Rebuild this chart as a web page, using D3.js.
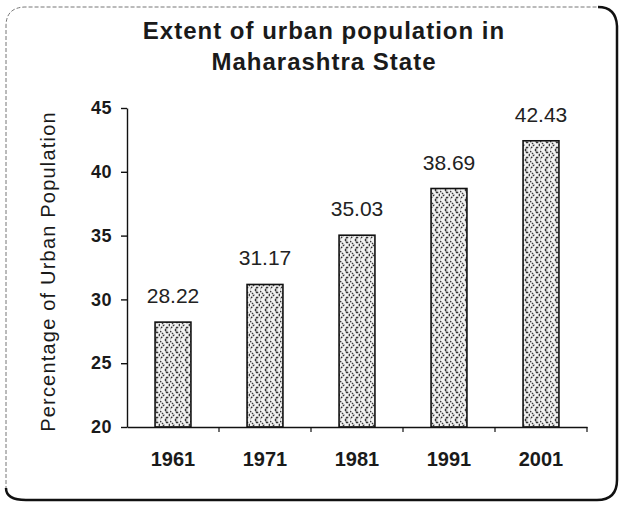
<!DOCTYPE html>
<html>
<head>
<meta charset="utf-8">
<script src="https://cdn.jsdelivr.net/npm/d3@7"></script>
<style>
  html, body { margin: 0; padding: 0; background: #ffffff; }
  svg { display: block; }
  text { font-family: "Liberation Sans", Arial, Helvetica, sans-serif; fill: #1a1a1a; }
</style>
</head>
<body>
<svg id="chart" width="621" height="507"></svg>
<script>
const titleLines = ["Extent of urban population in", "Maharashtra State"];
const yTitle = "Percentage of Urban Population";
const categories = ["1961", "1971", "1981", "1991", "2001"];
const values = [28.22, 31.17, 35.03, 38.69, 42.43];
const yTicks = [20, 25, 30, 35, 40, 45];
const yDomain = [20, 45];

const svg = d3.select("#chart");
const W = 621, H = 507;

// pattern (weave-like chevrons)
const defs = svg.append("defs");
const pat = defs.append("pattern")
  .attr("id", "weave").attr("patternUnits", "userSpaceOnUse")
  .attr("width", 10).attr("height", 10);
pat.append("rect").attr("width", 10).attr("height", 10).attr("fill", "#f2f2f2");
pat.append("path")
  .attr("d", "M0,1 L4,5 L0,9 M5,0 L10,5 M5,10 L10,5 M6,3 L8,1 M6,7 L8,9")
  .attr("fill", "none").attr("stroke", "#333").attr("stroke-width", 1.2)
  .attr("stroke-dasharray", "1.8,0.9");

// frame
svg.append("rect").attr("x", 0).attr("y", 0).attr("width", W).attr("height", H).attr("fill", "#ffffff");
svg.append("path")
  .attr("d", "M6,490 L6,26 Q6,7 26,7 L598,7")
  .attr("fill", "none").attr("stroke", "#777").attr("stroke-width", 1)
  .attr("stroke-dasharray", "4,2");
svg.append("path")
  .attr("d", "M598,7 Q616,7 617,26 L617,480 Q617,500 597,500 L26,500 Q6,500 6,488")
  .attr("fill", "none").attr("stroke", "#111").attr("stroke-width", 2.5);

// title
svg.append("g").selectAll("text").data(titleLines).join("text")
  .attr("x", 324).attr("y", (d, i) => 38.5 + i * 31.5)
  .attr("text-anchor", "middle")
  .style("font-size", "24px").style("font-weight", "bold").style("letter-spacing", "1px")
  .text(d => d);

// scales
const x = d3.scaleBand().domain(categories).range([127, 587]).padding(0);
const y = d3.scaleLinear().domain(yDomain).range([427, 108]);
const barRatio = 0.39;
const bw = x.bandwidth() * barRatio;

// bars
svg.append("g").selectAll("rect").data(values).join("rect")
  .attr("x", (d, i) => x(categories[i]) + (x.bandwidth() - bw) / 2)
  .attr("y", d => y(d))
  .attr("width", bw)
  .attr("height", d => y(yDomain[0]) - y(d))
  .attr("fill", "url(#weave)")
  .attr("stroke", "#111").attr("stroke-width", 1.6);

// value labels
svg.append("g").selectAll("text").data(values).join("text")
  .attr("x", (d, i) => x(categories[i]) + x.bandwidth() / 2)
  .attr("y", d => y(d) - 19)
  .attr("text-anchor", "middle")
  .style("font-size", "21px").style("fill", "#222")
  .text(d => d.toFixed(2));

// y axis
const gy = svg.append("g").attr("transform", "translate(127,0)")
  .call(d3.axisLeft(y).tickValues(yTicks).tickSize(6).tickSizeOuter(0).tickPadding(9));
gy.selectAll("text").style("font-size", "18px").style("font-weight", "bold").style("letter-spacing", "0.5px").style("fill", "#1a1a1a");
gy.selectAll("line, path").attr("stroke", "#111").attr("stroke-width", 1.4);

// x axis labels
const gx = svg.append("g").attr("transform", "translate(0,427)")
  .call(d3.axisBottom(x).tickSize(0).tickSizeOuter(0).tickPadding(25));
gx.select("path.domain").attr("stroke", "#111").attr("stroke-width", 1.6);
gx.selectAll("text").style("font-size", "20px").style("font-weight", "bold").style("fill", "#1a1a1a");

// boundary ticks on x axis
const bounds = categories.map(c => x(c)).concat([x.range()[1]]);
gx.append("g").selectAll("line").data(bounds.slice(1)).join("line")
  .attr("x1", d => d).attr("x2", d => d).attr("y1", 0).attr("y2", 5)
  .attr("stroke", "#111").attr("stroke-width", 1.2);

// y title
svg.append("text")
  .attr("transform", "translate(55,271.5) rotate(-90)")
  .attr("text-anchor", "middle")
  .style("font-size", "20px").style("letter-spacing", "1.2px").style("fill", "#1a1a1a")
  .text(yTitle);
</script>
</body>
</html>
